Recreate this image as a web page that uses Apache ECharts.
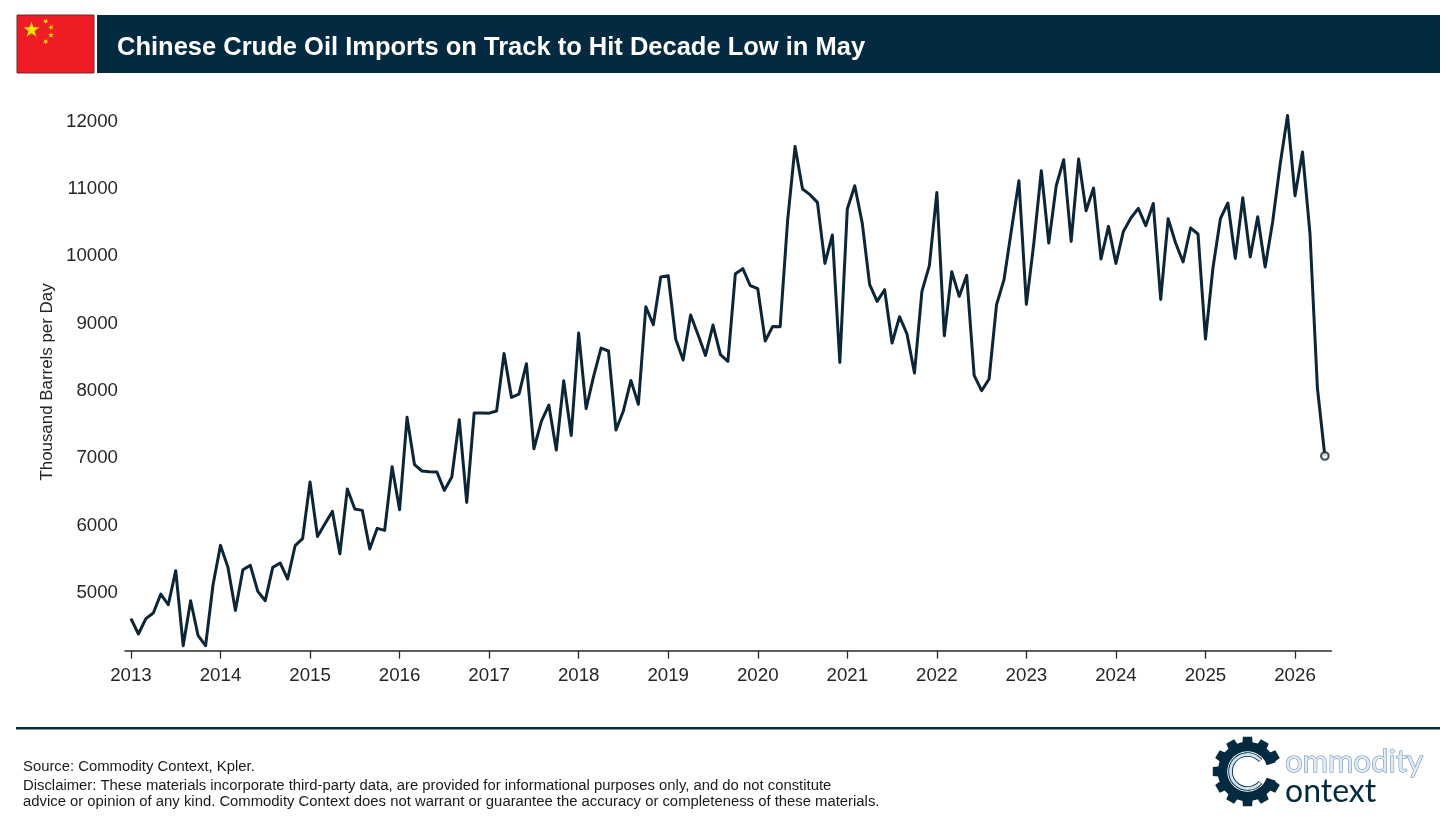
<!DOCTYPE html>
<html>
<head>
<meta charset="utf-8">
<style>html,body{margin:0;padding:0;background:#fff}#c{width:1456px;height:831px}</style>
<script src="https://cdn.jsdelivr.net/npm/echarts@6/dist/echarts.min.js"></script>
</head>
<body>
<div id="c"></div>
<script>
const imports2013 = [4586,4358,4586,4670,4952,4793,5299,4184,4853,4333,4184,5090];
const imports2014 = [5675,5348,4709,5313,5378,4991,4853,5348,5413,5175,5670,5774];
const imports2015 = [6616,5808,5997,6180,5551,6512,6215,6195,5621,5928,5898,6844];
const imports2016 = [6205,7577,6874,6780,6770,6765,6492,6691,7542,6314,7642,7642];
const imports2017 = [7640,7671,8527,7874,7924,8374,7111,7517,7760,7091,8122,7309];
const imports2018 = [8830,7706,8186,8607,8563,7389,7676,8126,7770,9221,8954,9662];
const imports2019 = [9682,8741,8429,9098,8805,8498,8949,8508,8409,9712,9786,9533];
const imports2020 = [9489,8711,8929,8924,10500,11603,10970,10886,10771,9865,10287,8394];
const imports2021 = [10673,11019,10465,9548,9300,9474,8682,9073,8816,8236,9449,9831];
const imports2022 = [10920,8790,9741,9374,9688,8201,7973,8147,9251,9623,10366,11094];
const imports2023 = [9256,10168,11242,10168,11019,11406,10192,11416,10648,10985,9930,10415];
const imports2024 = [9865,10340,10539,10682,10425,10756,9330,10529,10168,9886,10391,10302];
const imports2025 = [8741,9796,10529,10762,9939,10841,9960,10559,9811,10480,11331,12064];
const imports2026 = [10871,11520,10316,8013,7003];
const startYear = 2013;
const yearTicks = [2013,2014,2015,2016,2017,2018,2019,2020,2021,2022,2023,2024,2025,2026];
const valueTicks = [5000,6000,7000,8000,9000,10000,11000,12000];
const titleText = 'Chinese Crude Oil Imports on Track to Hit Decade Low in May';
const yTitle = 'Thousand Barrels per Day';
const sourceText = 'Source: Commodity Context, Kpler.';
const disclaimer1 = 'Disclaimer: These materials incorporate third-party data, are provided for informational purposes only, and do not constitute';
const disclaimer2 = 'advice or opinion of any kind. Commodity Context does not warrant or guarantee the accuracy or completeness of these materials.';

const allValues = [].concat(imports2013,imports2014,imports2015,imports2016,imports2017,imports2018,imports2019,imports2020,imports2021,imports2022,imports2023,imports2024,imports2025,imports2026);
const seriesData = allValues.map((v,i)=>[startYear+i/12,v]);
const NAVY='#032a40', LINE='#0c2638', FONT='"Liberation Sans",Arial,sans-serif';

function star(cx,cy,r,rot){
  const p=[];
  for(let i=0;i<10;i++){
    const a=-Math.PI/2+rot+i*Math.PI/5, q=i%2?r*0.382:r;
    p.push([cx+q*Math.cos(a),cy+q*Math.sin(a)]);
  }
  return {type:'polygon',shape:{points:p},style:{fill:'#ffde00'}};
}
function gearTeeth(cx,cy){
  const out=[],n=12;
  for(let i=0;i<n;i++){
    if(i===0) continue;
    const a=i*2*Math.PI/n, w1=0.20, w2=0.13, r1=27, r2=35;
    out.push({type:'polygon',shape:{points:[
      [cx+r1*Math.cos(a-w1),cy+r1*Math.sin(a-w1)],
      [cx+r2*Math.cos(a-w2),cy+r2*Math.sin(a-w2)],
      [cx+r2*Math.cos(a+w2),cy+r2*Math.sin(a+w2)],
      [cx+r1*Math.cos(a+w1),cy+r1*Math.sin(a+w1)]
    ]},style:{fill:NAVY}});
  }
  return out;
}
const GX=1247.5,GY=771.5;
const graphics=[
  {type:'rect',shape:{x:17,y:15,width:77,height:58},style:{fill:'#ee1c25',stroke:'#6e2a2e',lineWidth:1}},
  star(31.5,30,8.5,0),star(45.7,21.3,3,0.6),star(51,27.3,3,0.9),star(51,35.3,3,0),star(45.7,41.7,3,0.6),
  {type:'rect',shape:{x:97,y:15,width:1343,height:58},style:{fill:NAVY}},
  {type:'text',x:117,y:47.5,style:{text:titleText,fill:'#fff',font:'bold 25.5px '+FONT,textVerticalAlign:'middle'}},
  {type:'rect',shape:{x:16,y:727,width:1424,height:2.6},style:{fill:NAVY}},
  {type:'text',x:23,y:766.5,style:{text:sourceText,fill:'#1a1a1a',font:'14.85px '+FONT,textVerticalAlign:'middle'}},
  {type:'text',x:23,y:785.5,style:{text:disclaimer1,fill:'#1a1a1a',font:'14.85px '+FONT,textVerticalAlign:'middle'}},
  {type:'text',x:23,y:801.5,style:{text:disclaimer2,fill:'#1a1a1a',font:'14.85px '+FONT,textVerticalAlign:'middle'}},
  {type:'text',x:47,y:382,rotation:Math.PI/2,style:{text:yTitle,fill:'#262626',font:'16.9px '+FONT,textAlign:'center',textVerticalAlign:'middle'}},
  ...gearTeeth(GX,GY),
  {type:'arc',shape:{cx:GX,cy:GY,r:25,startAngle:0.32,endAngle:Math.PI*2-0.32,clockwise:true},style:{stroke:NAVY,fill:'none',lineWidth:9.5}},
  {type:'arc',shape:{cx:GX,cy:GY,r:17,startAngle:0.7,endAngle:Math.PI*2-0.7,clockwise:true},style:{stroke:NAVY,fill:'none',lineWidth:4.6}},
  {type:'arc',shape:{cx:GX,cy:GY,r:17,startAngle:0.72,endAngle:Math.PI*2-0.72,clockwise:true},style:{stroke:'#cfe2f5',fill:'none',lineWidth:2.8}},
  {type:'text',x:1285,y:762,style:{text:'ommodity',fill:'#dfeaf5',stroke:'#5d86ad',lineWidth:1,font:'31px Lato,'+FONT,textVerticalAlign:'middle'}},
  {type:'text',x:1285,y:792,style:{text:'ontext',fill:NAVY,font:'32px Lato,'+FONT,textVerticalAlign:'middle'}}
];

const chart=echarts.init(document.getElementById('c'),null,{renderer:'canvas',width:1456,height:831});
chart.setOption({
  animation:false,
  backgroundColor:'#fff',
  grid:{left:125,top:102,width:1206.3,height:548.7,containLabel:false},
  graphic:graphics,
  xAxis:{
    type:'value',
    min:2012.9335,
    max:2026.4052,
    splitLine:{show:false},
    axisLine:{show:true,onZero:false,lineStyle:{color:'#2b2b2b',width:1.6}},
    axisTick:{show:true,length:8,customValues:yearTicks,lineStyle:{color:'#2b2b2b',width:1.3}},
    axisLabel:{show:true,customValues:yearTicks,formatter:v=>String(Math.round(v)),color:'#262626',fontFamily:FONT,fontSize:18.7,margin:16}
  },
  yAxis:{
    type:'value',
    min:4110,
    max:12263,
    splitLine:{show:false},
    axisLine:{show:false},
    axisTick:{show:false},
    axisLabel:{show:true,customValues:valueTicks,formatter:v=>String(v),color:'#262626',fontFamily:FONT,fontSize:18.7,margin:7,verticalAlign:'top',lineHeight:4}
  },
  series:[
    {type:'line',data:seriesData,symbol:'none',clip:false,lineStyle:{color:LINE,width:3,join:'round'},z:3},
    {type:'scatter',data:[seriesData[seriesData.length-1]],symbol:'circle',symbolSize:7.5,clip:false,itemStyle:{color:'#fff',borderColor:LINE,borderWidth:2.2},z:4}
  ]
});
</script>
</body>
</html>
